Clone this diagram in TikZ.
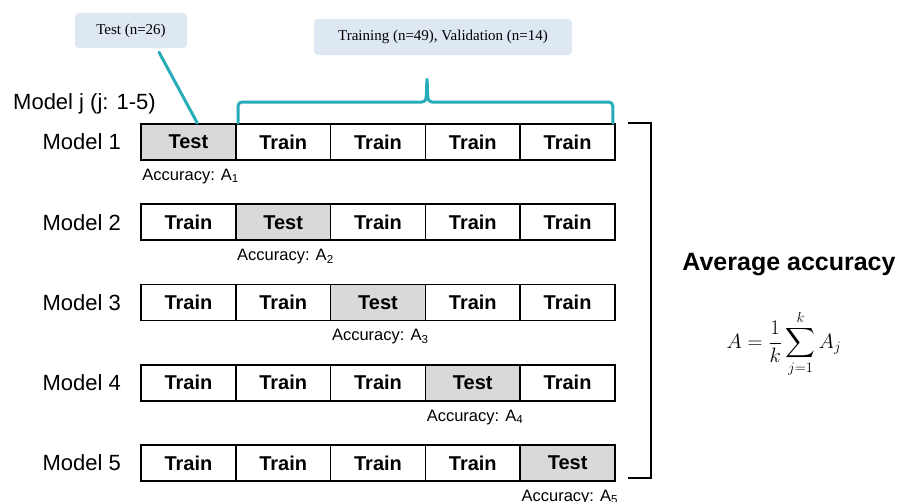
\documentclass[tikz,border=0pt]{standalone}
\usepackage{fontspec}
\usepackage{amsmath}
\newfontfamily\arialfont{Liberation Sans}
\newfontfamily\timesfont{Liberation Serif}
\definecolor{cvteal}{RGB}{40,172,184}
\definecolor{calloutblue}{RGB}{222,232,243}
\definecolor{testgray}{RGB}{217,217,217}
\begin{document}
\begin{tikzpicture}[x=1pt, y=-1pt,
    cell/.style={draw, line width=1.6pt, minimum width=94.8pt, minimum height=36pt, inner sep=0pt,
        font=\arialfont\bfseries\fontsize{20}{24}\selectfont},
    testcell/.style={cell, fill=testgray},
    callout/.style={fill=calloutblue, rounded corners=4pt, inner sep=0pt,
        font=\timesfont\fontsize{15}{18}\selectfont},
    rowlabel/.style={anchor=east, inner sep=0pt, font=\arialfont\fontsize{22}{26}\selectfont},
    acclabel/.style={anchor=north west, inner sep=0pt, font=\arialfont\fontsize{16.5}{20}\selectfont},
    cvline/.style={cvteal, line width=3pt, line cap=round, line join=round}]
    \useasboundingbox (0,0) rectangle (902,501);

    % Callouts
    \node[callout, minimum width=112pt, minimum height=35pt] (testnote) at (131,30.5) {Test (n=26)};
    \node[callout, minimum width=258pt, minimum height=36pt] (trainnote) at (443,37) {Training (n=49), Validation (n=14)};

    \node[rowlabel, anchor=west] (modelj) at (13,104) {Model j (j: 1-5)};

    % Folds
    \foreach \r in {1,...,5} {
        \node[rowlabel] (model\r) at (121,{142+(\r-1)*80.25}) {Model \r};
        \foreach \c in {1,...,5} {
            \ifnum\r=\c
                \node[testcell] (c\r-\c) at ({141+(\c-0.5)*94.8},{142+(\r-1)*80.25}) {Test};
            \else
                \node[cell] (c\r-\c) at ({141+(\c-0.5)*94.8},{142+(\r-1)*80.25}) {Train};
            \fi
        }
        \node[acclabel] (acc\r) at ([xshift=2pt,yshift=-8pt]c\r-\r.south west) {Accuracy: A\textsubscript{\r}};
    }

    % Split brace
    \draw[cvline] ([xshift=28pt,yshift=-4pt]testnote.south) -- ([xshift=9pt]c1-1.north);
    \draw[cvline, rounded corners=4pt] ([xshift=3pt]c1-2.north west) |- (426,102) -- (427,77)
        -- (428,102) -| ([xshift=-3pt]c1-5.north east);

    % Average
    \draw[line width=1.6pt] ([xshift=12pt]c1-5.north east) -| ([xshift=35pt,yshift=4pt]c5-5.south east)
        -- ([xshift=12pt,yshift=4pt]c5-5.south east);
    \node[inner sep=0pt, font=\arialfont\bfseries\fontsize{25}{30}\selectfont] (avg) at (789,265) {Average accuracy};
    \node[inner sep=0pt, font=\fontsize{21}{25}\selectfont] (formula) at (784,344)
        {$\displaystyle A=\frac{1}{k}\sum_{j=1}^{k}A_j$};
\end{tikzpicture}
\end{document}
